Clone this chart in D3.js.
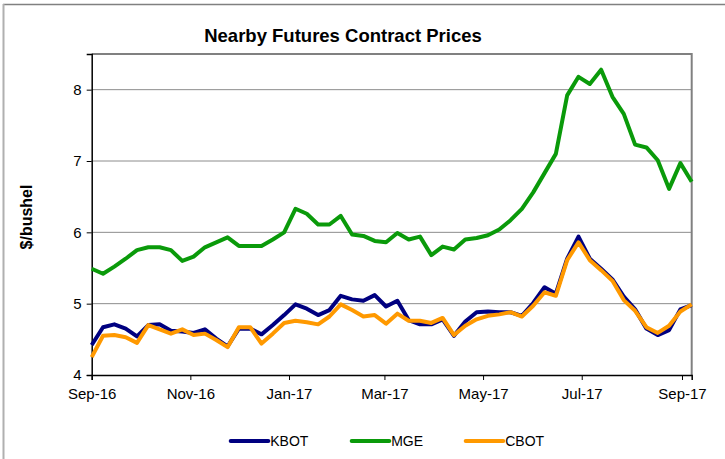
<!DOCTYPE html>
<html>
<head>
<meta charset="utf-8">
<script src="https://cdn.jsdelivr.net/npm/d3@7"></script>
<style>
  body { margin: 0; background: #fff; }
  text { font-family: "Liberation Sans", Arial, sans-serif; }
</style>
</head>
<body>
<div id="my_dataviz"></div>
<script>

// weekly observations, first one on Sep 1 2016
var startDate = "2016-09-01";
var xTicks = ["Sep-16", "Nov-16", "Jan-17", "Mar-17", "May-17", "Jul-17", "Sep-17"];
var yTicks = [4, 5, 6, 7, 8];
var seriesNames = ["KBOT", "MGE", "CBOT"];

var kbot = [4.42, 4.67, 4.71, 4.65, 4.54, 4.70, 4.71, 4.62, 4.61, 4.59,
            4.64, 4.51, 4.40, 4.65, 4.65, 4.57, 4.70, 4.84, 4.99, 4.93,
            4.84, 4.91, 5.11, 5.06, 5.04, 5.12, 4.96, 5.04, 4.77, 4.71,
            4.71, 4.78, 4.55, 4.75, 4.88, 4.89, 4.88, 4.88, 4.83, 5.01,
            5.23, 5.14, 5.63, 5.94, 5.63, 5.49, 5.34, 5.10, 4.92, 4.65,
            4.56, 4.63, 4.92, 4.98];

var mge = [5.49, 5.42, 5.52, 5.63, 5.75, 5.79, 5.79, 5.75, 5.60, 5.66,
           5.79, 5.86, 5.93, 5.81, 5.81, 5.81, 5.90, 6.00, 6.33, 6.26,
           6.11, 6.11, 6.23, 5.97, 5.95, 5.88, 5.86, 5.99, 5.90, 5.94,
           5.68, 5.80, 5.76, 5.90, 5.92, 5.96, 6.04, 6.17, 6.33, 6.56,
           6.83, 7.10, 7.92, 8.18, 8.08, 8.28, 7.90, 7.66, 7.23, 7.19,
           7.01, 6.61, 6.97, 6.71];

var cbot = [4.25, 4.55, 4.56, 4.53, 4.45, 4.70, 4.64, 4.58, 4.64, 4.56,
            4.58, 4.49, 4.39, 4.67, 4.67, 4.44, 4.58, 4.73, 4.76, 4.74,
            4.71, 4.82, 4.99, 4.91, 4.82, 4.84, 4.72, 4.86, 4.76, 4.76,
            4.73, 4.80, 4.56, 4.69, 4.78, 4.83, 4.85, 4.88, 4.82, 4.97,
            5.16, 5.11, 5.61, 5.86, 5.61, 5.47, 5.32, 5.05, 4.90, 4.67,
            4.59, 4.69, 4.89, 4.99];

var colors = ["#000080", "#0a9a0a", "#ff9900"];

// set the dimensions and margins of the graph
var width = 725, height = 459;
var margin = {top: 54, right: 33.3, bottom: 84, left: 91.7};

var svg = d3.select("#my_dataviz")
  .append("svg")
    .attr("width", width)
    .attr("height", height);

// outer frame (only top and left show)
svg.append("line")
    .attr("x1", 3).attr("x2", width).attr("y1", 4.5).attr("y2", 4.5)
    .attr("stroke", "#808080").attr("stroke-width", 1.5);
svg.append("line")
    .attr("x1", 3.5).attr("x2", 3.5).attr("y1", 4).attr("y2", height)
    .attr("stroke", "#b0b0b0").attr("stroke-width", 2);

var parseDay = d3.timeParse("%Y-%m-%d");
var parseMonth = d3.timeParse("%b-%y");
var t0 = parseDay(startDate);
var dates = kbot.map(function(d, i) { return d3.timeDay.offset(t0, 7 * i); });

var x = d3.scaleTime()
  .domain([dates[0], dates[dates.length - 1]])
  .range([margin.left, width - margin.right]);

var y = d3.scaleLinear()
  .domain([4, 8.5])
  .range([height - margin.bottom, margin.top]);

// gridlines
svg.append("g")
  .selectAll("line")
  .data(yTicks.filter(function(d) { return d > 4; }))
  .enter().append("line")
    .attr("x1", margin.left)
    .attr("x2", width - margin.right)
    .attr("y1", function(d) { return y(d); })
    .attr("y2", function(d) { return y(d); })
    .attr("stroke", "#8c8c8c")
    .attr("stroke-width", 1);

// plot frame top / right
svg.append("path")
    .attr("d", "M" + margin.left + "," + margin.top + "H" + (width - margin.right) + "V" + (height - margin.bottom))
    .attr("fill", "none")
    .attr("stroke", "#808080")
    .attr("stroke-width", 2);

// Y axis
var yAxis = svg.append("g")
    .attr("transform", "translate(" + margin.left + ",0)")
    .call(d3.axisLeft(y).tickValues(yTicks).tickSize(5).tickPadding(5).tickFormat(d3.format("d")));
yAxis.select(".domain").attr("stroke", "#000").attr("stroke-width", 1.5);
yAxis.selectAll("text").attr("font-size", "15px").attr("fill", "#000")
    .style("font-family", "'Liberation Sans', Arial, sans-serif");

// X axis
var xAxis = svg.append("g")
    .attr("transform", "translate(0," + (height - margin.bottom) + ")")
    .call(d3.axisBottom(x)
      .tickValues(xTicks.map(function(s) { return parseMonth(s); }))
      .tickFormat(function(d, i) { return xTicks[i]; })
      .tickSize(5).tickPadding(8));
xAxis.select(".domain").attr("stroke", "#000").attr("stroke-width", 1.5);
xAxis.selectAll("text").attr("font-size", "15px").attr("fill", "#000")
    .style("font-family", "'Liberation Sans', Arial, sans-serif");

// lines
var line = d3.line()
  .x(function(d, i) { return x(dates[i]); })
  .y(function(d) { return y(d); });

[kbot, mge, cbot].forEach(function(s, k) {
  svg.append("path")
    .datum(s)
    .attr("fill", "none")
    .attr("stroke", colors[k])
    .attr("stroke-width", 4)
    .attr("stroke-linejoin", "round")
    .attr("d", line);
});

// title
svg.append("text")
    .attr("x", 343)
    .attr("y", 42)
    .attr("text-anchor", "middle")
    .attr("font-size", "18.5px")
    .attr("font-weight", "bold")
    .text("Nearby Futures Contract Prices");

// y axis title
svg.append("text")
    .attr("transform", "translate(32,217) rotate(-90)")
    .attr("text-anchor", "middle")
    .attr("font-size", "16px")
    .attr("font-weight", "bold")
    .text("$/bushel");

// legend
var legendX = [230.7, 351.7, 465.7];
var legend = svg.append("g")
  .selectAll("g")
  .data(seriesNames)
  .enter().append("g")
    .attr("transform", function(d, i) { return "translate(" + legendX[i] + ",441)"; });
legend.append("line")
    .attr("x1", 0).attr("x2", 37.6)
    .attr("stroke", function(d, i) { return colors[i]; })
    .attr("stroke-width", 4)
    .attr("stroke-linecap", "round");
legend.append("text")
    .attr("x", 39.5)
    .attr("dy", "0.36em")
    .attr("font-size", "14px")
    .text(function(d) { return d; });

</script>
</body>
</html>
